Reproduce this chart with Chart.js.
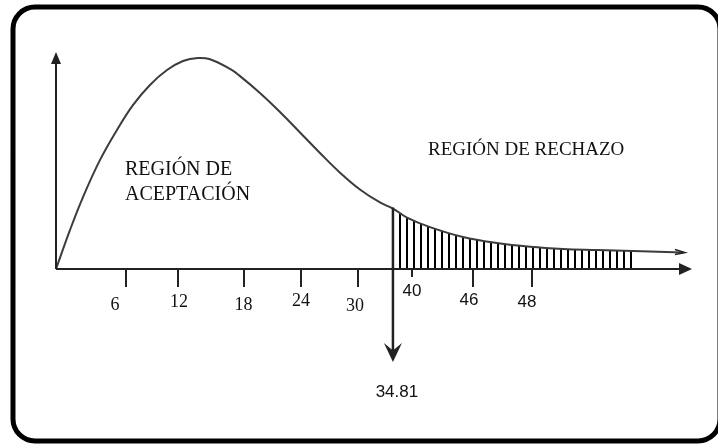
<!DOCTYPE html>
<html>
<head>
<meta charset="utf-8">
<script src="https://cdn.jsdelivr.net/npm/chart.js@4.4.0/dist/chart.umd.min.js"></script>
<style>
  html, body { margin: 0; padding: 0; background: #fff; }
  #wrap { width: 718px; height: 445px; }
</style>
</head>
<body>
<div id="wrap"><canvas id="chi_chart" width="718" height="445"></canvas></div>
<script>
// curve (x in axis units, y as density)
const curveX = [0, 1.45, 2.79, 4.55, 6.3, 7.95, 9.71, 11.47, 13.12, 14.67, 15.91, 17.98, 19.01, 21.07, 23.14,
                25.21, 27.27, 29.34, 31.4, 33.47, 34.81, 36.26, 38.64, 42.05, 45.56, 48.97, 52.38,
                55.89, 59.61, 64.77];
const curveY = [0, 0.0181, 0.0333, 0.0505, 0.0644, 0.0759, 0.0852, 0.0921, 0.0963, 0.0977, 0.0971, 0.0926,
                0.0893, 0.0815, 0.0727, 0.0632, 0.0537, 0.0446, 0.0368, 0.0308, 0.0280, 0.0238, 0.0194,
                0.0148, 0.012, 0.0103, 0.0093, 0.0088, 0.0083, 0.0076];

const critical = 34.81;
const shadeEnd = 59.8;

const tickLabels = ['6', '12', '18', '24', '30', '40', '46', '48'];
const tickAt = [7.23, 12.6, 19.42, 25.31, 31.2, 36.78, 43.08, 49.17];
const labelAt = [6.1, 12.71, 19.37, 25.31, 30.89, 36.78, 42.67, 48.66];

const curvePts = curveX.map((x, i) => ({x: x, y: curveY[i]}));
const tailPts = curvePts.filter(p => p.x >= critical && p.x <= shadeEnd);
tailPts.push({x: shadeEnd, y: curveY[curveX.length - 2]});

// vertical hatch pattern
function hatch() {
  const c = document.createElement('canvas');
  c.width = 7; c.height = 8;
  const g = c.getContext('2d');
  g.fillStyle = '#000';
  g.fillRect(0, 0, 2, 8);
  return g.createPattern(c, 'repeat');
}

const labelDy = [36, 33, 36, 32, 37, 22, 31, 33];
const labelSans = [false, false, false, false, false, true, true, true];

function arrowHead(ctx, tx, ty, dir, len, half) {
  ctx.beginPath();
  if (dir === 'up') {
    ctx.moveTo(tx, ty); ctx.lineTo(tx - half, ty + len); ctx.lineTo(tx + half, ty + len);
  } else if (dir === 'down') {
    ctx.moveTo(tx, ty); ctx.lineTo(tx - half, ty - len); ctx.lineTo(tx, ty - len * 0.6); ctx.lineTo(tx + half, ty - len);
  } else {
    ctx.moveTo(tx, ty); ctx.lineTo(tx - len, ty - half); ctx.lineTo(tx - len, ty + half);
  }
  ctx.closePath();
  ctx.fill();
}

const deco = {
  id: 'deco',
  beforeDraw(chart) {
    const ctx = chart.ctx;
    ctx.save();
    ctx.lineWidth = 5;
    ctx.strokeStyle = '#000';
    ctx.beginPath();
    ctx.roundRect(13, 7, 707, 434, 22);
    ctx.stroke();
    ctx.restore();
  },
  afterDatasetsDraw(chart) {
    const ctx = chart.ctx;
    const xs = chart.scales.x, ys = chart.scales.y;
    const x0 = xs.getPixelForValue(0), y0 = ys.getPixelForValue(0);
    ctx.save();
    ctx.strokeStyle = '#222';
    ctx.fillStyle = '#222';
    ctx.lineWidth = 2;

    // axes
    ctx.beginPath();
    ctx.moveTo(x0, y0); ctx.lineTo(x0, 60);
    ctx.moveTo(x0, y0); ctx.lineTo(682, y0);
    ctx.stroke();
    arrowHead(ctx, x0, 52, 'up', 12, 5);
    arrowHead(ctx, 692, y0, 'right', 13, 6);

    // tail end of the curve
    const ex = xs.getPixelForValue(curveX[curveX.length - 1]);
    const ey = ys.getPixelForValue(curveY[curveY.length - 1]);
    ctx.lineWidth = 1.5;
    ctx.beginPath();
    ctx.moveTo(ex - 8, ey - 3); ctx.lineTo(ex + 2, ey); ctx.lineTo(ex - 8, ey + 2);
    ctx.stroke();

    // ticks
    ctx.lineWidth = 2;
    ctx.beginPath();
    tickAt.forEach((t, i) => {
      const px = Math.round(xs.getPixelForValue(t));
      ctx.moveTo(px, y0 - 1);
      ctx.lineTo(px, y0 + (i === 5 ? 8 : 18));
    });
    ctx.stroke();

    // critical line and arrow
    const cx = xs.getPixelForValue(critical);
    ctx.lineWidth = 2.5;
    ctx.beginPath();
    ctx.moveTo(cx, ys.getPixelForValue(tailPts[0].y) - 1);
    ctx.lineTo(cx, 352);
    ctx.stroke();
    arrowHead(ctx, cx, 362, 'down', 19, 9);

    // tick labels
    ctx.fillStyle = '#111';
    ctx.textAlign = 'center';
    ctx.textBaseline = 'middle';
    tickLabels.forEach((lab, i) => {
      ctx.font = labelSans[i] ? '17px "Liberation Sans", Arial, sans-serif' : '18px "Liberation Serif", "Times New Roman", serif';
      ctx.fillText(lab, xs.getPixelForValue(labelAt[i]), y0 + labelDy[i]);
    });
    ctx.font = '17px "Liberation Sans", Arial, sans-serif';
    ctx.fillText(String(critical), cx + 4, 392);

    // region captions
    ctx.textAlign = 'left';
    ctx.font = '20px "Liberation Serif", "Times New Roman", serif';
    ctx.fillText('REGIÓN DE', 125, 170);
    ctx.fillText('ACEPTACIÓN', 125, 195);
    ctx.font = '19px "Liberation Serif", "Times New Roman", serif';
    ctx.fillText('REGIÓN DE RECHAZO', 428, 150);
    ctx.restore();
  }
};

const chi_chart = document.getElementById('chi_chart').getContext('2d');
const chart1 = new Chart(chi_chart, {
  type: 'line',
  data: {
    datasets: [{
      label: 'Curva',
      data: curvePts,
      borderColor: '#3c3c3c',
      borderWidth: 2,
      pointRadius: 0,
      tension: 0.4,
      fill: false,
    }, {
      label: 'Región de rechazo',
      data: tailPts,
      borderWidth: 0,
      borderColor: 'rgba(0,0,0,0)',
      backgroundColor: hatch(),
      pointRadius: 0,
      tension: 0.4,
      fill: 'origin',
    }],
  },
  options: {
    responsive: false,
    animation: false,
    devicePixelRatio: 1,
    layout: { padding: { left: 56, right: 28, top: 53, bottom: 176 } },
    scales: {
      x: { type: 'linear', min: 0, max: 65.5, display: false },
      y: { min: 0, max: 0.1, display: false },
    },
    plugins: {
      legend: { display: false },
      tooltip: { enabled: false },
    },
  },
  plugins: [deco],
});
</script>
</body>
</html>
